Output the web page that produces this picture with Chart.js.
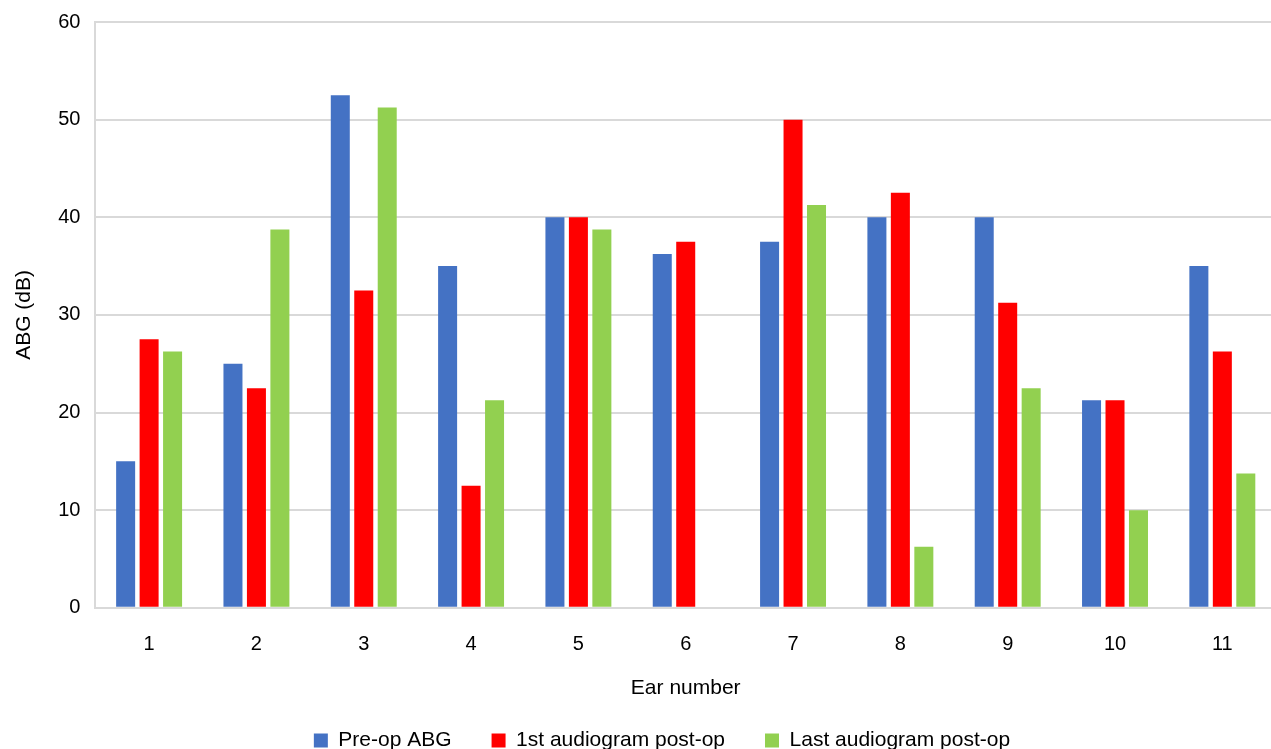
<!DOCTYPE html>
<html>
<head>
<meta charset="utf-8">
<script src="https://cdn.jsdelivr.net/npm/chart.js@4"></script>
<style>
  html, body { margin:0; padding:0; background:#fff; overflow:hidden; }
  #wrap { width:1276px; height:749px; position:relative; }
</style>
</head>
<body>
<div id="wrap"><canvas id="chart"></canvas></div>
<script>
/* ==== Data ==== */
const ears = ['1','2','3','4','5','6','7','8','9','10','11'];
const preOp = [15, 25, 52.5, 35, 40, 36.25, 37.5, 40, 40, 21.25, 35];
const firstPostOp = [27.5, 22.5, 32.5, 12.5, 40, 37.5, 50, 42.5, 31.25, 21.25, 26.25];
const lastPostOp = [26.25, 38.75, 51.25, 21.25, 38.75, 0, 41.25, 6.25, 22.5, 10, 13.75];
const yTicks = [0, 10, 20, 30, 40, 50, 60];

/* ==== Chart ==== */
const FONT = '"Liberation Sans", Arial, Helvetica, sans-serif';
const GRID = '#d9d9d9';

function series(label, data, color){
  return { label, data, backgroundColor: color, borderWidth: 0,
           barPercentage: 0.81, categoryPercentage: 0.656 };
}

// legend sits a bit right of the canvas centre in the original
const legendShift = {
  id: 'legendShift',
  afterLayout(chart){
    chart.legend.left += 20;
    chart.legend.right += 20;
  }
};

const ctx = document.getElementById('chart').getContext('2d');
new Chart(ctx, {
  type: 'bar',
  data: {
    labels: ears,
    datasets: [
      series('Pre-op ABG', preOp, '#4472C4'),
      series('1st audiogram post-op', firstPostOp, '#FF0000'),
      series('Last audiogram post-op', lastPostOp, '#92D050')
    ]
  },
  plugins: [legendShift],
  options: {
    responsive: true,
    maintainAspectRatio: false,
    animation: false,
    layout: { padding: { left: 8, right: 0, top: 2, bottom: -12 } },
    plugins: {
      tooltip: { enabled: false },
      legend: {
        position: 'bottom',
        labels: {
          boxWidth: 14, boxHeight: 14, padding: 40,
          color: '#000', font: { family: FONT, size: 21 }
        }
      }
    },
    scales: {
      x: {
        grid: { display: false, drawTicks: false },
        border: { color: GRID, width: 2 },
        ticks: { color: '#000', font: { family: FONT, size: 20 }, padding: 25 },
        title: { display: true, text: 'Ear number', color: '#000',
                 font: { family: FONT, size: 21 }, padding: { top: -6, bottom: -11 } }
      },
      y: {
        min: 0, max: 60,
        afterBuildTicks: axis => { axis.ticks = yTicks.map(v => ({ value: v })); },
        grid: { color: GRID, lineWidth: 2, drawTicks: false },
        border: { color: GRID, width: 2 },
        ticks: { color: '#000', font: { family: FONT, size: 20, lineHeight: 0.7 }, padding: 15 },
        title: { display: true, text: 'ABG (dB)', color: '#000',
                 font: { family: FONT, size: 21 }, padding: { bottom: 6 } }
      }
    }
  }
});
</script>
</body>
</html>
